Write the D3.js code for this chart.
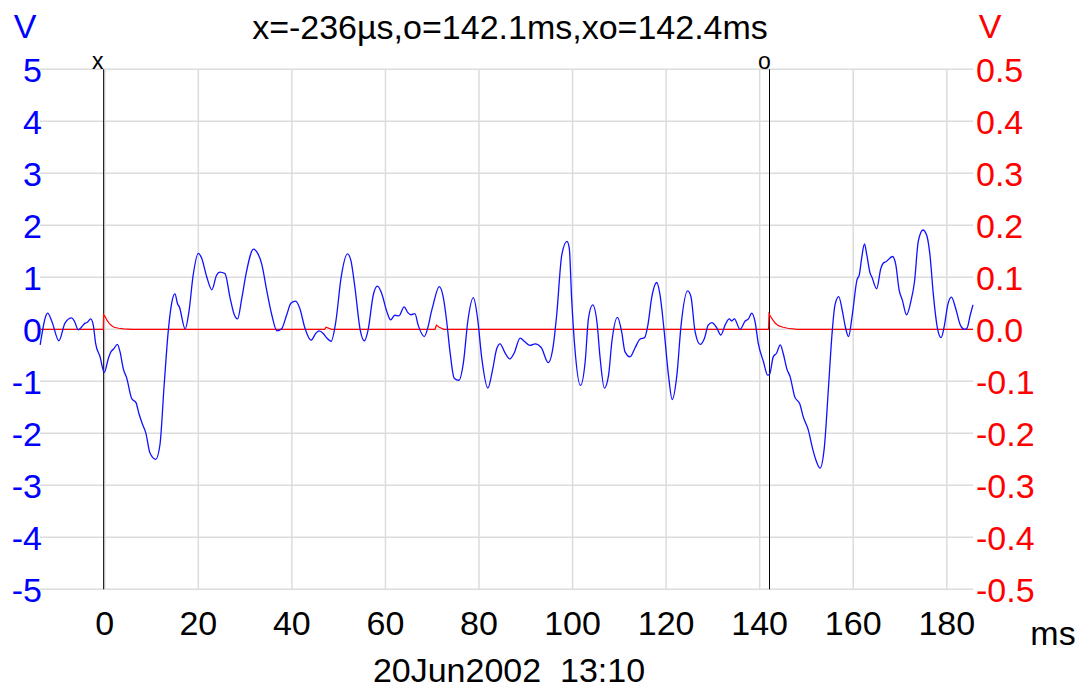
<!DOCTYPE html>
<html><head><meta charset="utf-8">
<script src="https://cdn.jsdelivr.net/npm/d3@7"></script>
<style>body{margin:0;background:#fff}svg{display:block}text{font-family:"Liberation Sans",Arial,sans-serif}</style>
</head><body>
<svg id="c" width="1087" height="690"></svg>
<script>
const titleText = "x=-236µs,o=142.1ms,xo=142.4ms";
const dateText = "20Jun2002  13:10";
const xTicks = [0,20,40,60,80,100,120,140,160,180];
const leftTicks = [5,4,3,2,1,0,-1,-2,-3,-4,-5];
const rightTicks = [0.5,0.4,0.3,0.2,0.1,0.0,-0.1,-0.2,-0.3,-0.4,-0.5];
const cursorX = -0.236, cursorO = 142.1;

const blueT = [-13.8,-12.2,-11.3,-9.8,-8.5,-7.1,-6.5,-5.65,-4.9,-4.2,-3.8,-3.0,-2.45,-1.95,-1.0,-0.1,0.77,1.34,1.9,2.7,3.26,3.97,4.7,5.76,6.68,7.3,8.0,8.8,9.67,10.9,11.8,12.7,13.6,14.3,15.0,15.6,15.9,17.2,18.0,18.9,20.0,20.7,21.8,22.9,23.9,24.6,25.7,
26.8,27.7,28.4,29.3,30.3,31.8,32.5,33.6,34.6,35.7,36.8,37.8,38.9,39.8,40.8,41.7,42.8,44.1,45.1,45.8,46.7,47.4,48.4,49.4,50.5,51.9,52.6,53.5,54.6,55.5,56.3,57.4,58.3,59.2,60.3,61.1,62.0,62.9,64.0,64.8,65.5,66.3,
67.0,68.3,69.2,69.7,70.2,71.5,72.4,73.1,73.8,74.7,75.7,76.7,77.6,78.8,79.7,80.6,81.9,82.9,83.8,84.5,85.6,86.6,87.5,88.8,89.8,90.9,92.0,93.3,94.8,95.9,96.6,97.7,98.8,99.3,99.8,100.5,101.7,102.7,103.4,104.3,105.2,105.9,106.8,
107.7,108.4,109.6,110.5,111.2,112.3,113.4,114.4,115.4,116.1,116.9,118.0,118.7,119.6,120.5,121.3,122.3,123.2,124.6,125.3,126.2,127.3,128.2,129.0,129.8,130.8,131.7,132.6,133.5,134.0,134.6,135.8,136.9,137.6,138.3,139.0,139.7,140.8,141.7,142.1,142.9,143.6,144.4,145.1,145.8,146.5,147.5,
148.6,149.3,150.4,151.3,152.0,152.9,153.8,154.7,155.5,156.1,156.9,157.7,158.3,159.0,159.8,160.8,161.3,161.8,162.4,162.9,163.6,164.0,165.0,165.9,166.4,167.0,168.4,169.1,169.8,170.5,171.4,172.3,173.1,173.9,174.9,175.7,176.4,177.1,178.0,178.8,179.5,180.2,181.0,181.9,182.9,183.8,184.3,185.0,185.6];
const blueV = [-0.30,0.31,0.15,-0.22,0.12,0.22,0.16,-0.01,0.05,0.12,0.13,0.20,0.08,-0.27,-0.53,-0.83,-0.56,-0.43,-0.38,-0.29,-0.43,-0.76,-0.94,-1.33,-1.41,-1.62,-1.81,-2.0,-2.38,-2.50,-2.22,-1.07,-0.01,0.50,0.68,0.48,0.44,0.01,0.34,1.04,1.46,1.37,1.01,0.76,1.04,1.10,1.07,
0.60,0.28,0.20,0.60,1.11,1.54,1.49,1.24,0.76,0.28,-0.03,0.01,0.28,0.50,0.54,0.40,0.02,-0.21,-0.08,-0.03,-0.08,-0.16,-0.23,0.15,0.98,1.45,1.33,0.79,-0.01,-0.22,-0.01,0.66,0.83,0.69,0.34,0.18,0.27,0.26,0.43,0.32,0.28,0.30,
0.08,-0.14,0.08,0.29,0.47,0.82,0.60,0.15,-0.43,-0.94,-0.98,-0.62,0.15,0.61,0.21,-0.56,-1.13,-0.78,-0.37,-0.28,-0.46,-0.57,-0.46,-0.17,-0.24,-0.31,-0.28,-0.35,-0.64,-0.30,0.27,1.43,1.69,1.56,0.60,-0.37,-1.08,-0.62,0.21,0.47,0.15,-0.56,-1.13,
-0.88,-0.24,0.23,-0.05,-0.43,-0.53,-0.35,-0.19,-0.16,0.08,0.60,0.90,0.66,-0.05,-0.88,-1.35,-0.88,0.08,0.74,0.63,-0.05,-0.29,-0.17,0.08,0.13,0.03,-0.11,0.08,0.20,0.16,0.20,0.0,0.16,0.20,0.31,0.15,-0.27,-0.62,-0.88,-0.87,-0.53,-0.46,-0.30,-0.49,-0.76,-0.91,-1.30,
-1.44,-1.68,-1.94,-2.29,-2.51,-2.67,-2.29,-1.13,-0.05,0.47,0.63,0.34,0.05,-0.14,0.28,0.95,1.05,1.37,1.64,1.43,1.08,1.0,0.78,1.17,1.27,1.30,1.40,1.24,0.76,0.56,0.28,0.53,0.92,1.69,1.91,1.81,1.43,0.69,0.02,-0.16,0.08,0.47,0.62,0.40,0.08,0.0,0.02,0.27,0.47];

const redT = [-13.8,-0.3,-0.25,0.1,0.5,1.0,1.5,2.0,3.0,4.0,6.0,47.0,47.3,48.5,70.6,70.9,71.5,72.5,141.9,142.0,142.3,142.8,143.3,144.0,145.0,146.0,148.0,185.6];
const redV = [0,0,0.028,0.024,0.017,0.011,0.007,0.004,0.002,0.001,0,0,0.004,0,0,0.008,0.004,0,0,0.03,0.025,0.018,0.012,0.007,0.004,0.002,0,0];

const svg = d3.select("#c");
const L = 40, R = 973, T = 69.3, B = 589.3;
const x = d3.scaleLinear().domain([-13.84,185.6]).range([L,R]);
const yL = d3.scaleLinear().domain([-5,5]).range([B,T]);
const yR = d3.scaleLinear().domain([-0.5,0.5]).range([B,T]);
const fmtR = d => d3.format(".1f")(d).replace("\u2212","-");

// grid
svg.append("g").selectAll("line").data(xTicks).join("line")
  .attr("x1",d=>x(d)).attr("x2",d=>x(d)).attr("y1",T).attr("y2",B)
  .attr("stroke","#dcdcdc").attr("stroke-width",1.5);
svg.append("g").selectAll("line").data(leftTicks).join("line")
  .attr("x1",L).attr("x2",R).attr("y1",d=>yL(d)).attr("y2",d=>yL(d))
  .attr("stroke","#dcdcdc").attr("stroke-width",1.5);

// axes labels
const fs = 34;
svg.append("g").selectAll("text").data(leftTicks).join("text")
  .attr("x",42).attr("y",d=>yL(d)).attr("dy","0.36em").attr("text-anchor","end")
  .attr("fill","#0000ff").attr("font-size",fs).text(d=>d);
svg.append("g").selectAll("text").data(rightTicks).join("text")
  .attr("x",976).attr("y",d=>yR(d)).attr("dy","0.36em").attr("text-anchor","start")
  .attr("fill","#ff0000").attr("font-size",fs).text(fmtR);
svg.append("g").selectAll("text").data(xTicks).join("text")
  .attr("x",d=>x(d)).attr("y",635).attr("text-anchor","middle")
  .attr("fill","#000").attr("font-size",fs).text(d=>d);

svg.append("text").attr("x",25).attr("y",38).attr("text-anchor","middle").attr("fill","#0000ff").attr("font-size",fs).text("V");
svg.append("text").attr("x",990).attr("y",38).attr("text-anchor","middle").attr("fill","#ff0000").attr("font-size",fs).text("V");
svg.append("text").attr("x",510).attr("y",39).attr("text-anchor","middle").attr("fill","#000").attr("font-size",fs).text(titleText);
svg.append("text").attr("x",1053).attr("y",645).attr("text-anchor","middle").attr("fill","#000").attr("font-size",fs).text("ms");
svg.append("text").attr("x",509).attr("y",682).attr("text-anchor","middle").attr("fill","#000").attr("font-size",fs)
  .style("white-space","pre").text(dateText);

// cursors
[[cursorX,"x",-6],[cursorO,"o",-5]].forEach(([t,lab,off])=>{
  svg.append("line").attr("x1",x(t)).attr("x2",x(t)).attr("y1",T).attr("y2",B).attr("stroke","#000").attr("stroke-width",1);
  svg.append("text").attr("x",x(t)+off).attr("y",69).attr("text-anchor","middle")
    .attr("font-family","Liberation Mono, DejaVu Sans Mono, monospace").attr("font-size",23).attr("fill","#000").text(lab);
});

// traces
const red = d3.line().x((d,i)=>x(redT[i])).y(d=>yR(d));
svg.append("path").attr("d",red(redV)).attr("fill","none").attr("stroke","#ff0000").attr("stroke-width",1.2);
const blue = d3.line().x((d,i)=>x(blueT[i])).y(d=>yL(d)).curve(d3.curveMonotoneX);
svg.append("path").attr("d",blue(blueV)).attr("fill","none").attr("stroke","#1010ff").attr("stroke-width",1.3);
</script>
</body></html>
